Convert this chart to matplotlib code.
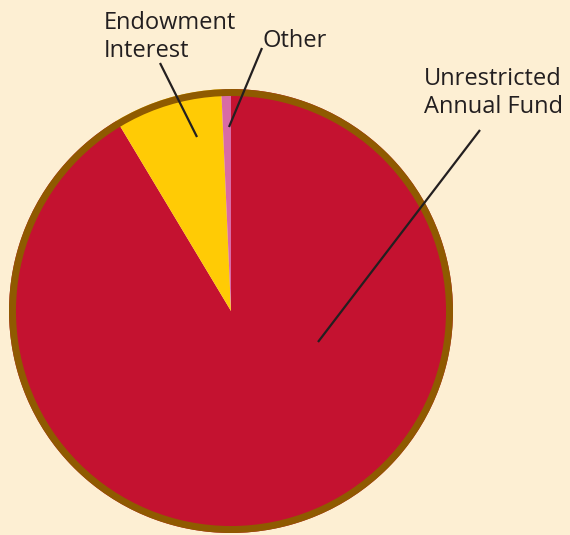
import matplotlib
matplotlib.use("Agg")
from matplotlib import pyplot as plt
from matplotlib.patches import Circle

# Slice data, clockwise from the top
labels = ["Unrestricted\nAnnual Fund", "Endowment\nInterest", "Other"]
values = [91.4, 7.9, 0.7]
colors = ["#C41230", "#FFCB05", "#D86BA6"]

BG = "#FDEFD3"
RIM = "#8F5A00"
INK = "#231F20"
W, H = 570, 535

plt.rcParams['font.family'] = ['Open Sans', 'DejaVu Sans']

fig = plt.figure(figsize=(W / 100, H / 100), dpi=100, facecolor=BG)
ax = fig.add_axes([0, 0, 1, 1])
ax.set_facecolor(BG)

cx, cy, r = 231, H - 311, 222
ax.pie(values, colors=colors, startangle=90, counterclock=False,
       center=(cx, cy), radius=r, wedgeprops=dict(linewidth=0))
ax.add_patch(Circle((cx, cy), r - 3.5, fill=False, edgecolor=RIM, linewidth=5.0))

ax.set_xlim(0, W)
ax.set_ylim(0, H)
ax.axis("off")

# label last-baseline position (pixels) and leader line (pixels)
label_pos = [(424, 113), (104, 57), (262, 47)]
leaders = [((480, 130), (318, 342)), ((160, 63), (197, 137)), ((262, 48), (229, 127))]

for lab, (tx, ty), ((x0, y0), (x1, y1)) in zip(labels, label_pos, leaders):
    ax.text(tx, H - ty, lab, ha="left", va="baseline", fontsize=17, color=INK,
            linespacing=1.2)
    ax.plot([x0, x1], [H - y0, H - y1], color=INK, linewidth=1.6,
            solid_capstyle="butt")

fig.savefig("out.png", dpi=100, facecolor=BG)
